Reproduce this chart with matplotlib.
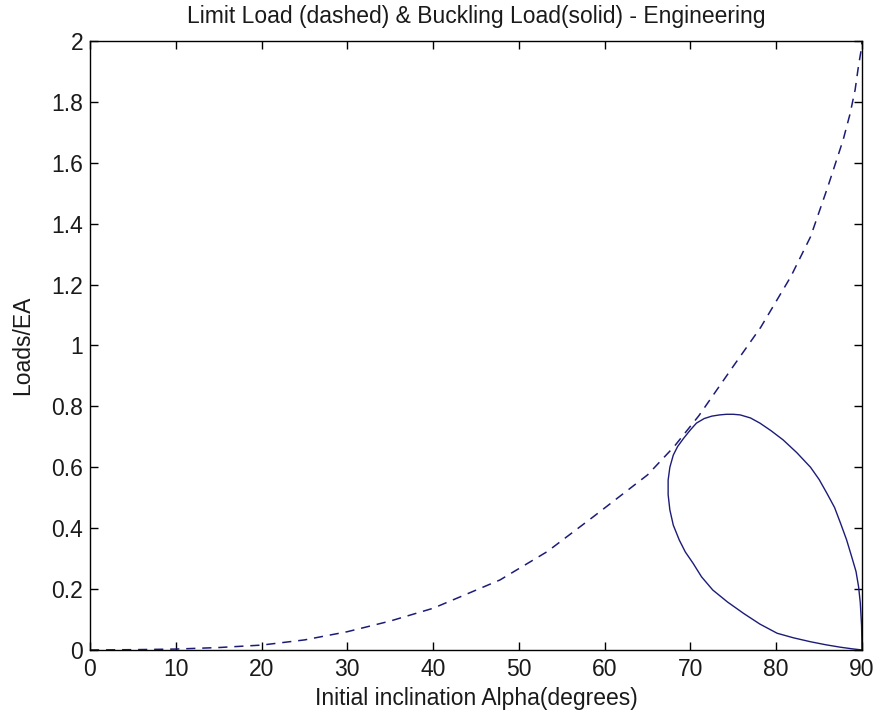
import matplotlib
matplotlib.use("Agg")
import matplotlib.pyplot as plt
from matplotlib import font_manager

# Limit load (dashed)
limit_alpha = [0, 5, 10, 15, 20, 25, 30, 35, 40, 43.2, 47.8, 53.3, 58.7, 65.0, 68.1,
               71.0, 74.7, 78.2, 81.7, 84.0, 86.0, 87.8, 88.6, 89.2, 89.6, 89.9, 90.0]
limit_load = [0, 0.001, 0.003, 0.008, 0.016, 0.033, 0.060, 0.095, 0.137, 0.175, 0.230,
              0.323, 0.438, 0.575, 0.668, 0.770, 0.920, 1.060, 1.226, 1.357, 1.520,
              1.675, 1.760, 1.840, 1.920, 1.970, 2.000]

# Buckling load (solid loop)
buck_alpha = [90.0, 88.8, 87.5, 85.8, 84.0, 82.0, 80.1, 78.1, 76.2, 74.3, 72.6, 71.3,
              70.3, 69.4, 68.7, 68.0, 67.6, 67.4, 67.4, 67.6, 68.0, 68.5, 69.2, 70.0,
              70.7, 71.6, 72.5, 73.4, 74.2, 75.0, 75.8, 77.0, 78.1, 79.4, 80.8, 82.4,
              84.0, 85.0, 85.9, 86.8, 87.5, 88.2, 88.8, 89.3, 89.6, 89.8, 89.95, 90.0]
buck_load = [0.0, 0.004, 0.009, 0.017, 0.027, 0.040, 0.055, 0.085, 0.120, 0.158, 0.197,
             0.240, 0.285, 0.322, 0.361, 0.410, 0.460, 0.510, 0.558, 0.600, 0.640,
             0.668, 0.695, 0.723, 0.745, 0.760, 0.768, 0.772, 0.774, 0.774, 0.772,
             0.762, 0.745, 0.720, 0.690, 0.648, 0.600, 0.560, 0.515, 0.468, 0.416,
             0.362, 0.306, 0.258, 0.208, 0.155, 0.080, 0.0]

x_ticks = [0, 10, 20, 30, 40, 50, 60, 70, 80, 90]
y_ticks = [0, 0.2, 0.4, 0.6, 0.8, 1.0, 1.2, 1.4, 1.6, 1.8, 2.0]
y_tick_labels = ["0", "0.2", "0.4", "0.6", "0.8", "1", "1.2", "1.4", "1.6", "1.8", "2"]

names = {f.name for f in font_manager.fontManager.ttflist}
fam = [f for f in ["Liberation Sans Narrow", "Liberation Sans", "DejaVu Sans"] if f in names]
plt.rcParams['font.family'] = fam

color = "#1c1c78"
fs = 16.5
fig = plt.figure(figsize=(8.77, 7.19), dpi=100)
ax = fig.add_axes([0.1026, 0.096, 0.8803, 0.847])

ax.plot(limit_alpha, limit_load, color=color, lw=1.1, dashes=(6, 4.5))
ax.plot(buck_alpha, buck_load, color=color, lw=1.0)

ax.set_xlim(0, 90)
ax.set_ylim(0, 2)
ax.set_xticks(x_ticks)
ax.set_yticks(y_ticks)
ax.set_yticklabels(y_tick_labels)
ax.tick_params(direction='in', top=True, right=True, length=6, width=1, labelsize=fs,
               labelcolor="#1a1a1a")
ax.tick_params(axis='x', pad=6)
ax.tick_params(axis='y', pad=5)
for s in ax.spines.values():
    s.set_linewidth(1.0)
ax.set_xlabel("Initial inclination Alpha(degrees)", fontsize=fs, labelpad=4, color="#1a1a1a")
ax.set_ylabel("Loads/EA", fontsize=fs, labelpad=12, color="#1a1a1a")
ax.set_title("Limit Load (dashed) & Buckling Load(solid) - Engineering", fontsize=fs, pad=13,
             color="#1a1a1a")

fig.savefig("out.png", dpi=100)
